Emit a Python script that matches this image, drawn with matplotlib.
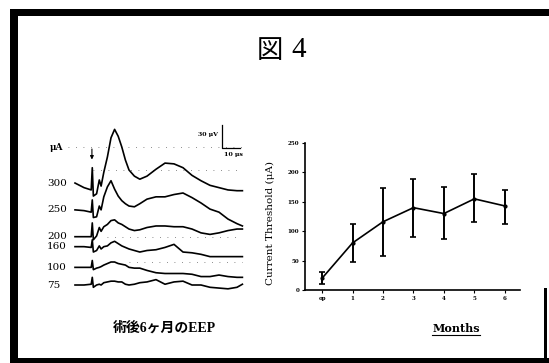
import matplotlib.pyplot as plt
import numpy as np
from matplotlib.patches import Rectangle

# --- right panel: threshold vs months ---
months = ["op", "1", "2", "3", "4", "5", "6"]
threshold = [20, 80, 116, 140, 130, 155, 143]
err_low = [10, 33, 58, 50, 44, 39, 31]
err_high = [10, 32, 57, 49, 46, 42, 27]

# --- left panel: EEP traces (time in ms, amplitude in uV relative to baseline) ---
t_ms = [0, 5, 9, 9.6, 10.2, 12, 13.5, 14.5, 16, 18, 20, 22, 24, 26, 28, 30,
        33, 36, 40, 45, 50, 55, 60, 65, 70, 75, 80, 85, 90, 93]
currents = ["300", "250", "200", "160", "100", "75"]
offsets = [133, 98, 63, 50, 23, 0]
eep_300 = [0, -6, -9, 20, -17, -14, 4, -4, 14, 34, 59, 70, 61, 47, 30, 17,
           9, 5, 9, 18, 26, 25, 20, 10, 3, -3, -6, -9, -10, -10]
eep_250 = [0, -1, -3, 13, -10, -9, 5, 0, 17, 30, 38, 27, 18, 12, 8, 5,
           4, 8, 14, 17, 17, 20, 22, 16, 9, 1, -3, -12, -18, -21]
eep_200 = [0, 0, 0, 18, -4, 1, 12, 7, 13, 16, 21, 22, 18, 16, 13, 10,
           8, 9, 12, 14, 14, 13, 13, 10, 5, 3, 5, 8, 10, 10]
eep_160 = [0, 0, -1, 9, -7, -5, 1, -3, 0, 1, 5, 7, 4, 1, -1, -3,
           -5, -7, -5, -4, -1, 3, -7, -8, -10, -13, -13, -13, -13, -13]
eep_100 = [0, 0, 0, 9, -3, -1, 0, 1, 3, 5, 7, 7, 5, 4, 3, 0,
           -1, -1, -4, -7, -8, -8, -8, -9, -12, -12, -10, -12, -13, -13]
eep_75 = [0, 0, 1, 10, -3, 0, 1, 0, 3, 4, 5, 5, 4, 4, 1, 0,
          1, 3, 4, 7, 1, 4, 5, 0, 0, -3, -4, -5, -3, 1]
traces = [eep_300, eep_250, eep_200, eep_160, eep_100, eep_75]

W, H = 549, 363
fig = plt.figure(figsize=(W / 100, H / 100), dpi=100)
fig.patch.set_facecolor("white")

serif = ["DejaVu Serif", "Noto Sans CJK JP"]

# page frame, drawn in pixel units
frame = fig.add_axes([0, 0, 1, 1])
frame.set_xlim(0, W)
frame.set_ylim(H, 0)
frame.axis("off")
for x, y, w, h in [(12, 9, 537, 7), (10, 9, 8, 354), (10, 358, 539, 5), (544, 288, 3, 75)]:
    frame.add_patch(Rectangle((x, y), w, h, color="black", lw=0))

fig.text(270 / W, 1 - 50 / H, "図", family="Noto Sans CJK JP", fontsize=19,
         ha="center", va="center")
fig.text(298.5 / W, 1 - 50 / H, "4", family="Liberation Serif", fontsize=21,
         ha="center", va="center")

# --- EEP panel ---
px_per_ms = 1.8
px_per_uv = 23 / 30
x0, x1, y0, y1 = 60, 250, 120, 295
ax_w = fig.add_axes([x0 / W, 1 - y1 / H, (x1 - x0) / W, (y1 - y0) / H])
ax_w.set_xlim((x0 - 75) / px_per_ms, (x1 - 75) / px_per_ms)
ax_w.set_ylim((285 - y1) / px_per_uv, (285 - y0) / px_per_uv)
ax_w.axis("off")

# faint dotted grid left on the recording
for lvl, a, b in [(180, -4, 93), (150, 10, 93), (62, 18, 93), (30, 30, 93)]:
    ax_w.plot([a, b], [lvl, lvl], color="black", lw=0.6,
              linestyle=(0, (1, 8)), alpha=0.6)

for lab, off, tr in zip(currents, offsets, traces):
    ax_w.plot(t_ms, np.array(tr) + off, color="black", lw=1.2)
    ax_w.text(-15.6, off, lab, family=serif, fontsize=7.5, ha="left",
              va="center", clip_on=False)
ax_w.text(-13.9, 180, "μA", family=serif, fontsize=6.5, ha="left",
          va="center", fontweight="bold")
ax_w.annotate("", xy=(9.4, 160), xytext=(9.4, 181),
              arrowprops=dict(arrowstyle="-|>", color="black", lw=0.8,
                              mutation_scale=5))
# scale bar: 30 uV / 10 us
ax_w.plot([81.7, 81.7, 91.7], [209, 179, 179], color="black", lw=0.9)
ax_w.text(79.5, 196, "30 μV", family=serif, fontsize=4.5, ha="right",
          va="center", fontweight="bold")
ax_w.text(88, 170, "10 μs", family=serif, fontsize=4.5, ha="center",
          va="center", fontweight="bold")
fig.text(164 / W, 1 - 328 / H, "術後6ヶ月のEEP", family=["Liberation Serif", "Noto Sans CJK JP"],
         fontsize=10, fontweight="bold", ha="center", va="center")

# --- threshold chart ---
ax = fig.add_axes([305 / W, 1 - 290 / H, 215 / W, 147 / H])
xs = np.arange(len(months))
ax.errorbar(xs, threshold, yerr=[err_low, err_high], color="black", lw=1.2,
            elinewidth=1.4, capsize=2.2, capthick=1.2, marker="o",
            markersize=2)
ax.set_xlim(-0.56, 6.5)
ax.set_ylim(0, 250)
ax.set_xticks(xs)
ax.set_xticklabels(months)
ax.set_yticks(np.arange(0, 251, 50))
for s in ["top", "right"]:
    ax.spines[s].set_visible(False)
for s in ["left", "bottom"]:
    ax.spines[s].set_linewidth(1.2)
ax.tick_params(axis="both", length=2, width=0.8, pad=2, labelsize=4)
for lab in ax.get_xticklabels() + ax.get_yticklabels():
    lab.set_fontweight("bold")
    lab.set_family(serif)
ax.set_ylabel("Current Threshold (μA)", family=serif, fontsize=7.5)
ax.yaxis.set_label_coords(-0.14, 0.456)
fig.text(456 / W, 1 - 329 / H, "Months", family=serif, fontsize=8,
         fontweight="bold", ha="center", va="center")
frame.plot([432, 480], [335, 335], color="black", lw=0.8)

fig.savefig("out.png", dpi=100)
